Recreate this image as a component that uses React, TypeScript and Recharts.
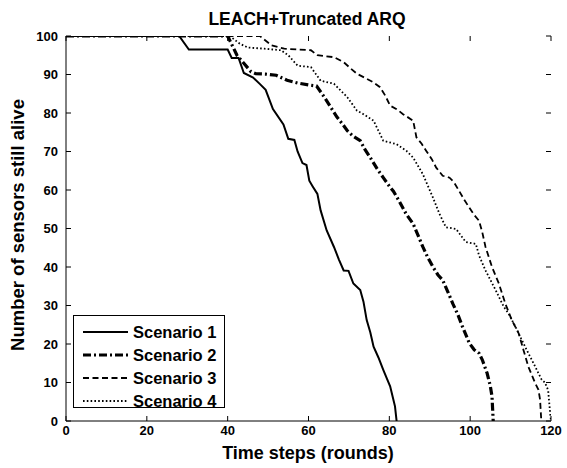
import React from 'react';
import { LineChart, Line, XAxis, YAxis } from 'recharts';

// Scenario 1 (solid)
const s1T = [0, 28, 30.4, 40, 41, 42.7, 44, 46.3, 48, 49.4, 51.2, 53.8, 55, 56.5, 57.3, 58.5, 59.5, 60.2, 61, 62.2, 63, 64.5, 66.3, 67.5, 68.7, 69.9, 71.1, 72.8, 73.6, 74.4, 75.3, 76.1, 77.3, 78.5, 79.4, 80.2, 80.9, 81.4, 81.8];
const s1N = [100, 100, 96.5, 96.5, 94.3, 94.3, 90.4, 89.2, 87.5, 86, 81, 77, 73.3, 73, 70, 67, 66.5, 62.4, 61, 59, 54.7, 49.5, 45.2, 42, 39.1, 39, 35.7, 34, 31, 26.2, 23, 19.3, 16.5, 13.3, 11, 9, 6, 3.8, 0];

// Scenario 2 (dash-dot)
const s2T = [0, 40, 42.3, 44, 45.8, 47, 49.4, 52, 54.7, 57.3, 60, 62, 64, 65.5, 67, 68.5, 69.6, 71, 72.8, 74, 75.3, 77, 78.5, 80, 81, 82.5, 84.2, 85.9, 87, 88.3, 89.5, 90.8, 92, 93.2, 94.5, 95.7, 97, 98.1, 99.8, 101, 102.2, 103, 104.2, 105, 105.4, 105.7];
const s2N = [100, 100, 95, 92.9, 90.7, 90.2, 90.1, 89.8, 88.5, 87.8, 87.3, 87, 84, 81.5, 79, 77, 75.4, 74, 72.8, 70.5, 68.4, 65.5, 63.2, 61, 59.7, 57, 53.7, 51.2, 48.5, 45.2, 42.5, 40, 38, 36.6, 33.5, 30.5, 27.5, 24.5, 20.2, 18.5, 17.6, 15.9, 12.4, 9, 6.4, 0];

// Scenario 3 (dashed)
const s3T = [0, 48, 48.3, 50.8, 54, 60.6, 62.2, 66.3, 68.7, 70.5, 72, 74.4, 76, 77.7, 79, 80.2, 81.8, 83.4, 85.9, 86.7, 88, 89.1, 90.5, 91.6, 93.2, 94.9, 96, 97.3, 98.5, 99.8, 101, 102.2, 103, 103.8, 105.4, 107.1, 108.7, 110.3, 112, 113.2, 114.4, 116.1, 116.9, 117.3, 117.6];
const s3N = [100, 100, 99.7, 97.6, 96.7, 96.3, 95, 94.5, 93.2, 91.5, 90.2, 88.9, 88, 86.7, 84.5, 81.9, 81, 79.7, 78, 73.7, 72, 70.2, 68, 65.8, 63.7, 63.2, 62, 59.7, 57.5, 55.4, 53.5, 52, 49, 45.2, 40, 35.7, 30.5, 26.2, 22.8, 18.4, 14.1, 9.8, 8.1, 5.5, 0];

// Scenario 4 (dotted)
const s4T = [0, 40.5, 43, 45, 49.1, 53.2, 55, 57.3, 60.6, 63, 66.3, 69.6, 72, 73.6, 76.1, 78.5, 81.8, 84.2, 85.9, 88.3, 90.8, 92.4, 94, 96.5, 98.9, 101.4, 102.2, 103.8, 106.3, 108.3, 109.5, 111.2, 112.8, 114.4, 116.1, 117.7, 118.5, 119.3, 119.7, 120];
const s4N = [100, 100, 98, 97, 96.7, 96.3, 95, 92.3, 91.9, 88.4, 87.6, 84.1, 80.6, 79.7, 78, 72.8, 71.9, 70.2, 68.4, 64.1, 58, 53.8, 50.3, 49.9, 46.5, 46, 43, 39.1, 34, 29.7, 27.9, 24.5, 21, 17.6, 14.1, 10.7, 10, 8, 3, 0];

const xTicks = [0, 20, 40, 60, 80, 100, 120];
const yTicks = [0, 10, 20, 30, 40, 50, 60, 70, 80, 90, 100];
const seriesNames = ['Scenario 1', 'Scenario 2', 'Scenario 3', 'Scenario 4'];
const titleText = 'LEACH+Truncated ARQ';
const xLabelText = 'Time steps (rounds)';
const yLabelText = 'Number of sensors still alive';

const toRows = (t: number[], n: number[]) => t.map((v, i) => ({ t: v, n: n[i] }));

const FONT = '"Liberation Sans", Arial, sans-serif';
const CHART_W = 567;
const CHART_H = 468;
const MARGIN = { top: 36, right: 16, bottom: 0, left: 0 };
const Y_AXIS_W = 66;
const X_AXIS_H = 47;
const PLOT_W = CHART_W - MARGIN.left - MARGIN.right - Y_AXIS_W;
const PLOT_H = CHART_H - MARGIN.top - MARGIN.bottom - X_AXIS_H;
const TICK_LEN = 5;
const B_MARGIN = 5;
const L_MARGIN = 8;

const styles = [
  { width: 2, dash: undefined as string | undefined },
  { width: 3.2, dash: '8 3 2 3' },
  { width: 1.8, dash: '6 3.5' },
  { width: 1.8, dash: '1.6 2.2' },
];

const series = [
  toRows(s1T, s1N),
  toRows(s2T, s2N),
  toRows(s3T, s3N),
  toRows(s4T, s4N),
];

const BottomTick = (props: any) => {
  const { x, y, payload } = props;
  const axisY = y - B_MARGIN;
  const topY = axisY - PLOT_H;
  return (
    <g>
      <line x1={x} x2={x} y1={axisY} y2={axisY - TICK_LEN} stroke="#000" strokeWidth={1} />
      <line x1={x} x2={x} y1={topY} y2={topY + TICK_LEN} stroke="#000" strokeWidth={1} />
      <text x={x} y={y} dy="0.72em" textAnchor="middle" fontFamily={FONT} fontWeight="bold" fontSize={13} fill="#000">
        {payload.value}
      </text>
    </g>
  );
};

const LeftTick = (props: any) => {
  const { x, y, payload } = props;
  const axisX = x + L_MARGIN;
  const rightX = axisX + PLOT_W;
  return (
    <g>
      <line x1={axisX} x2={axisX + TICK_LEN} y1={y} y2={y} stroke="#000" strokeWidth={1} />
      <line x1={rightX} x2={rightX - TICK_LEN} y1={y} y2={y} stroke="#000" strokeWidth={1} />
      <text x={x} y={y} dy="0.36em" textAnchor="end" fontFamily={FONT} fontWeight="bold" fontSize={13} fill="#000">
        {payload.value}
      </text>
    </g>
  );
};

export default function App() {
  return (
    <div style={{ position: 'absolute', left: 0, top: 0, width: CHART_W, height: CHART_H, background: '#fff' }}>
      <LineChart width={CHART_W} height={CHART_H} margin={MARGIN}>
        <XAxis
          xAxisId="b"
          type="number"
          dataKey="t"
          orientation="bottom"
          domain={[0, 120]}
          ticks={xTicks}
          allowDataOverflow
          interval={0}
          height={X_AXIS_H}
          tickLine={false}
          tickSize={0}
          tickMargin={B_MARGIN}
          tick={BottomTick}
          stroke="#000"
        />
        <XAxis
          xAxisId="top"
          type="number"
          dataKey="t"
          orientation="top"
          domain={[0, 120]}
          ticks={xTicks}
          allowDataOverflow
          height={0}
          tickLine={false}
          tick={false}
          stroke="#000"
        />
        <YAxis
          yAxisId="l"
          type="number"
          orientation="left"
          domain={[0, 100]}
          ticks={yTicks}
          allowDataOverflow
          interval={0}
          width={Y_AXIS_W}
          tickLine={false}
          tickSize={0}
          tickMargin={L_MARGIN}
          tick={LeftTick}
          stroke="#000"
        />
        <YAxis
          yAxisId="r"
          type="number"
          orientation="right"
          domain={[0, 100]}
          ticks={yTicks}
          allowDataOverflow
          width={0}
          tickLine={false}
          tick={false}
          stroke="#000"
        />
        {series.map((rows, i) => (
          <Line
            key={seriesNames[i]}
            xAxisId="b"
            yAxisId="l"
            data={rows}
            dataKey="n"
            type="linear"
            stroke="#000"
            strokeWidth={styles[i].width}
            strokeDasharray={styles[i].dash}
            dot={false}
            activeDot={false}
            isAnimationActive={false}
            name={seriesNames[i]}
          />
        ))}
      </LineChart>
      <svg
        width={CHART_W}
        height={CHART_H}
        style={{ position: 'absolute', left: 0, top: 0, pointerEvents: 'none' }}
      >
        <text x={307} y={25} textAnchor="middle" fontFamily={FONT} fontWeight="bold" fontSize={17.5} fill="#000">
          {titleText}
        </text>
        <text x={308} y={459} textAnchor="middle" fontFamily={FONT} fontWeight="bold" fontSize={18} fill="#000">
          {xLabelText}
        </text>
        <text
          x={0}
          y={0}
          transform="translate(24,225) rotate(-90)"
          textAnchor="middle"
          fontFamily={FONT}
          fontWeight="bold"
          fontSize={18.5}
          fill="#000"
        >
          {yLabelText}
        </text>
        <g>
          <rect x={73.5} y={315.5} width={151} height={92} fill="#fff" stroke="#000" strokeWidth={1} />
          {seriesNames.map((name, i) => {
            const cy = 332 + i * 23;
            return (
              <g key={name}>
                <line x1={83} x2={128} y1={cy} y2={cy} stroke="#000" strokeWidth={styles[i].width} strokeDasharray={styles[i].dash} />
                <text x={133} y={cy + 6} fontFamily={FONT} fontWeight="bold" fontSize={16.5} fill="#000">
                  {name}
                </text>
              </g>
            );
          })}
        </g>
      </svg>
    </div>
  );
}
